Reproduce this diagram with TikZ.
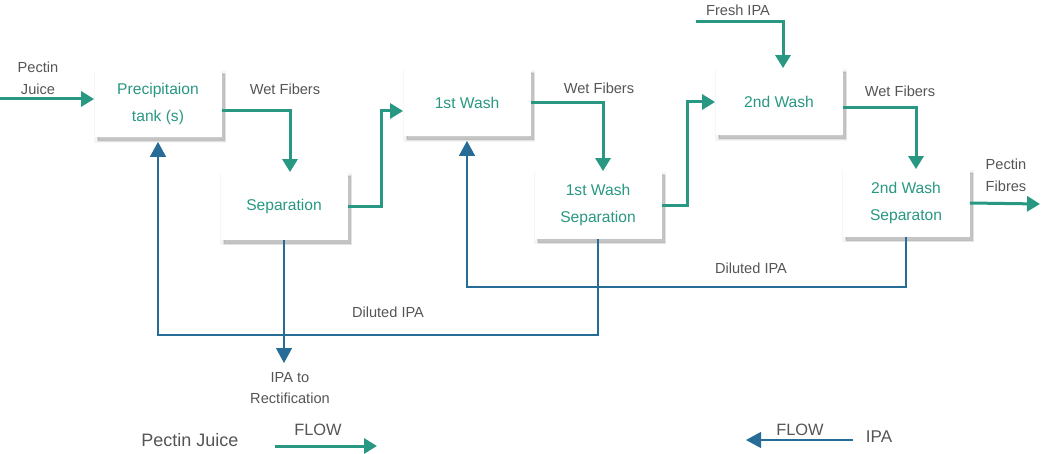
\documentclass[tikz,border=0pt]{standalone}
\usepackage{fontspec}
\setmainfont{Liberation Sans}
\usetikzlibrary{arrows.meta,shadows}
\definecolor{juice}{RGB}{41,152,131}
\definecolor{ipa}{RGB}{38,108,150}
\definecolor{note}{RGB}{85,85,85}
\tikzset{
  softshadow/.style={
    general shadow={shadow xshift=1pt, shadow yshift=-1.5pt, fill=black, draw=black, line width=2.5pt, opacity=0.04},
    general shadow={shadow xshift=1.5pt, shadow yshift=-2pt, fill=black, draw=black, line width=1pt, opacity=0.07},
    general shadow={shadow xshift=1.5pt, shadow yshift=-2pt, fill=black, opacity=0.1}},
  procbox/.style={rectangle, fill=white, minimum width=63.5pt, minimum height=33.5pt, align=center, text=juice,
    font=\fontsize{7.8pt}{13.3pt}\selectfont, softshadow},
  juiceflow/.style={juice, line width=1.5pt, -{Triangle[width=7.5pt,length=6.5pt]}},
  ipaflow/.style={ipa, line width=0.6pt, -{Triangle[width=8pt,length=7.5pt]}},
  lbl/.style={text=note, align=center, font=\fontsize{7.3pt}{10.8pt}\selectfont}
}
\begin{document}
\begin{tikzpicture}[x=0.5pt, y=-0.5pt]
        \useasboundingbox (0,0) rectangle (1042,454);

        % process boxes
        \node[procbox] (prec) at (158,104) {Precipitaion\\tank (s)};
        \node[procbox] (sep) at (284,206) {Separation};
        \node[procbox] (wash1) at (467,103) {1st Wash};
        \node[procbox] (sep1) at (598,205) {1st Wash\\Separation};
        \node[procbox] (wash2) at (779,102) {2nd Wash};
        \node[procbox] (sep2) at (906,203) {2nd Wash\\Separaton};

        % stream labels
        \node[lbl] (juicein) at (38,78) {Pectin\\Juice};
        \node[lbl] (wet0) at (285,89) {Wet Fibers};
        \node[lbl] (wet1) at (599,88) {Wet Fibers};
        \node[lbl] (wet2) at (900,91) {Wet Fibers};
        \node[lbl] (fresh) at (738,10) {Fresh IPA};
        \node[lbl] (fibres) at (1006,175) {Pectin\\Fibres};
        \node[lbl] (rect) at (290,388) {IPA to\\Rectification};
        \node[lbl] (dilA) at (388,312) {Diluted IPA};
        \node[lbl] (dilB) at (751,268) {Diluted IPA};

        \coordinate (feed) at (0,99);
        \coordinate (freshin) at (696,22);
        \coordinate (out) at (1040,204);
        \coordinate (drain) at (284,363);
        \coordinate (retA) at (400,335);
        \coordinate (retB) at (750,287);

        % fibre line
        \draw[juiceflow] (feed) -- (prec.west |- feed);
        \draw[juiceflow] ([yshift=-3.5pt]prec.east) -| ([xshift=3pt]sep.north);
        \draw[juiceflow] (sep.east) -- ++(34,0) |- ([yshift=-4pt]wash1.west);
        \draw[juiceflow] (wash1.east) -| ([xshift=2.5pt]sep1.north);
        \draw[juiceflow] (sep1.east) -- ++(26,0) |- (wash2.west);
        \draw[juiceflow] (freshin) -| ([xshift=2pt]wash2.north);
        \draw[juiceflow] ([yshift=-3pt]wash2.east) -| ([xshift=5pt]sep2.north);
        \draw[juiceflow] (sep2.east) -- (out);

        % IPA line
        \draw[ipaflow] (sep.south) -- (drain);
        \draw[ipaflow, shorten >=2pt] (sep1.south) |- (retA) -| (prec.south);
        \draw[ipaflow, shorten >=2pt] (sep2.south) |- (retB) -| (wash1.south);

        % legend
        \node[lbl, font=\fontsize{9pt}{11pt}\selectfont] (legjuice) at (190,440) {Pectin Juice};
        \node[lbl, font=\fontsize{8.2pt}{10pt}\selectfont] (flowA) at (318,430) {FLOW};
        \coordinate (gA) at (275,446);
        \coordinate (gB) at (377,446);
        \draw[juiceflow] (gA) -- (gB);
        \node[lbl, font=\fontsize{8.5pt}{10pt}\selectfont] (legipa) at (879,437) {IPA};
        \node[lbl, font=\fontsize{8.2pt}{10pt}\selectfont] (flowB) at (800,430) {FLOW};
        \coordinate (bA) at (853,440);
        \coordinate (bB) at (746,440);
        \draw[ipaflow] (bA) -- (bB);
\end{tikzpicture}
\end{document}
